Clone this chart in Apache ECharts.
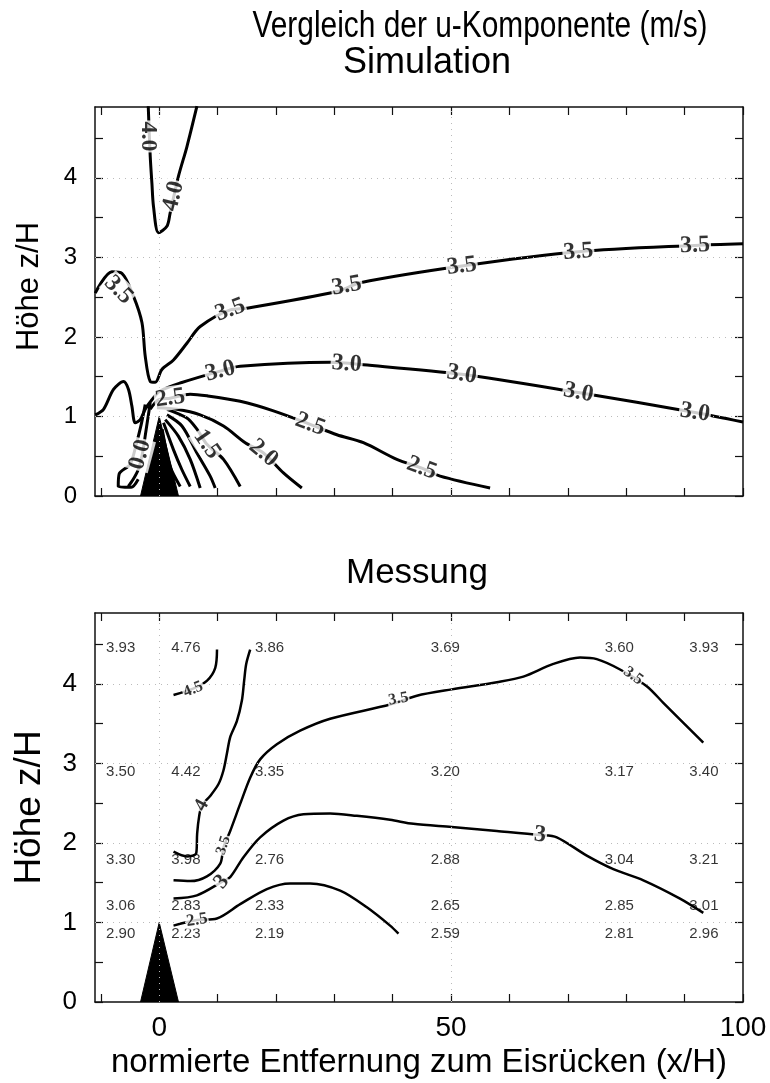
<!DOCTYPE html>
<html><head><meta charset="utf-8">
<script src="https://cdn.jsdelivr.net/npm/echarts@6.0.0/dist/echarts.min.js"></script>
<style>html,body{margin:0;padding:0;background:#fff}#c{width:770px;height:1083px}</style>
</head><body><div id="c"></div>
<script>
// ---------- axis definitions ----------
const xMin = -11, xMax = 100, yMin = 0, yMax = 4.89;
const xTickVals = [-10, 0, 10, 20, 30, 40, 50, 60, 70, 80, 90, 100];
const xLabelVals = [0, 50, 100];
const yTickVals = [0, 0.5, 1, 1.5, 2, 2.5, 3, 3.5, 4, 4.5];
const yLabelVals = [0, 1, 2, 3, 4];
const gridXVals = [0, 50];
const gridYVals = [1, 2, 3, 4];

// ---------- ridge (ice ridge triangle) ----------
const ridge = [[-3.2, 0], [0, 1], [3.3, 0]];

// ---------- Simulation contours ----------
const sim40 = [[-1.88, 4.90], [-1.54, 4.27], [-1.25, 3.93], [-0.98, 3.64], [-0.12, 3.31], [1.32, 3.39], [1.88, 3.56], [3.30, 4.02], [4.74, 4.39], [6.46, 4.90]];
const sim35 = [[-10.96, 2.55], [-8.1, 2.82], [-6.39, 2.80], [-4.4, 2.51], [-2.96, 2.18], [-2.4, 1.76], [-1.54, 1.44], [-0.68, 1.43], [0.46, 1.59], [2.45, 1.71], [4.74, 1.92], [7.02, 2.13], [12.16, 2.34], [15.02, 2.36], [30.43, 2.57], [34.42, 2.68], [51.83, 2.89], [71.8, 3.07], [91.78, 3.15], [100, 3.17]];
const sim30 = [[-10.96, 1.02], [-9.54, 1.09], [-7.83, 1.34], [-6.11, 1.44], [-5.26, 1.34], [-4.68, 1.13], [-4.11, 0.92], [-3.25, 0.96], [-2.4, 1.09], [-1.25, 1.21], [0.17, 1.32], [3.6, 1.42], [10.45, 1.57], [13.87, 1.63], [29.28, 1.68], [34.98, 1.65], [51.83, 1.53], [71.8, 1.30], [91.78, 1.05], [100, 0.93]];
const sim25 = [[-1.54, 1.09], [-0.12, 1.21], [1.88, 1.23], [5.31, 1.28], [8.17, 1.26], [13.87, 1.19], [19.57, 1.07], [25.86, 0.90], [30.43, 0.77], [34.98, 0.67], [40.7, 0.46], [44.98, 0.35], [48.12, 0.25], [56.68, 0.10]];
const sim20 = [[-0.39, 1.11], [3.03, 1.09], [7.02, 1.02], [11.01, 0.88], [14.73, 0.67], [17.86, 0.54], [21.28, 0.29], [24.43, 0.10]];
const sim15 = [[1.32, 1.09], [4.74, 0.98], [6.46, 0.84], [8.17, 0.65], [11.01, 0.46], [13.87, 0.12]];
const sim10 = [[1.32, 1.02], [3.89, 0.88], [6.46, 0.54], [8.73, 0.25], [9.59, 0.10]];
const sim05 = [[1.03, 0.96], [3.3, 0.75], [5.31, 0.46], [7.02, 0.10]];
const sim00a = [[0.74, 0.92], [2.45, 0.58], [3.89, 0.33], [5.31, 0.12]];
const sim00b = [[0.51, 0.84], [1.88, 0.37], [3.6, 0.12]];
const simLeftA = [[-2.4, 1.15], [-3.08, 0.90], [-3.94, 0.65], [-4.97, 0.40], [-6.85, 0.28], [-7.02, 0.12], [-4.8, 0.11], [-3.6, 0.21]];
const simLeftB = [[-1.54, 1.17], [-2.23, 0.84], [-2.91, 0.52], [-3.6, 0.33], [-4.45, 0.21], [-5.3, 0.12]];
// contour labels: [x, y, text, rotation]
const simLabels = [
  [-1.88, 4.52, '4.0', -90], [2.45, 3.77, '4.0', 76],
  [-6.97, 2.59, '3.5', -45], [12.16, 2.34, '3.5', 20], [32.1, 2.64, '3.5', 10], [51.83, 2.89, '3.5', 7], [71.8, 3.07, '3.5', 4], [91.78, 3.15, '3.5', 2],
  [10.45, 1.57, '3.0', 14], [32.1, 1.66, '3.0', -4], [51.83, 1.53, '3.0', -9], [71.8, 1.30, '3.0', -11], [91.78, 1.05, '3.0', -9],
  [1.88, 1.23, '2.5', 8], [25.86, 0.90, '2.5', -20], [44.98, 0.35, '2.5', -20],
  [17.86, 0.54, '2.0', -40], [8.17, 0.65, '1.5', -55], [-3.25, 0.52, '0.0', 75]
];

// ---------- Messung contours ----------
const mes45 = [[2.45, 3.86], [5.8, 3.94], [8.2, 4.04], [9.6, 4.20], [9.9, 4.43]];
const mes40 = [[2.45, 1.89], [4.74, 1.83], [6.34, 1.87], [6.5, 2.12], [6.85, 2.34], [7.3, 2.47], [8.73, 2.59], [10.16, 2.74], [11.0, 2.91], [11.59, 3.12], [12.16, 3.33], [13.3, 3.53], [14.16, 3.79], [14.55, 4.04], [14.9, 4.25], [15.58, 4.43]];
const mes35 = [[2.45, 1.53], [5.31, 1.52], [8.17, 1.58], [10.45, 1.74], [11.0, 1.94], [12.16, 2.15], [13.87, 2.49], [15.58, 2.82], [17.29, 3.05], [20.15, 3.24], [24.14, 3.41], [29.28, 3.56], [39.55, 3.74], [44.13, 3.85], [50.12, 3.93], [57.83, 4.02], [62.38, 4.09], [67.52, 4.25], [72.09, 4.33], [74.95, 4.31], [78.94, 4.18], [83.51, 3.97], [86.35, 3.76], [93.2, 3.26]];
const mes30 = [[2.45, 1.30], [6.46, 1.34], [10.74, 1.51], [12.16, 1.57], [14.43, 1.82], [17.29, 2.07], [21.28, 2.28], [24.71, 2.36], [29.28, 2.37], [33.85, 2.34], [39.55, 2.29], [43.54, 2.24], [50.12, 2.20], [57.83, 2.15], [65.24, 2.10], [68.1, 2.07], [73.24, 1.84], [77.79, 1.67], [82.93, 1.53], [89.21, 1.30], [93.2, 1.12]];
const mes25 = [[2.45, 0.96], [6.46, 1.03], [9.88, 1.05], [13.87, 1.23], [18.44, 1.42], [22.43, 1.49], [25.86, 1.49], [31.0, 1.40], [35.57, 1.19], [39.55, 0.96], [40.98, 0.86]];
// contour labels: [x, y, text, rotation, fontSize]
const mesLabels = [
  [5.82, 3.93, '4.5', 22, 16], [7.3, 2.47, '4', 62, 20], [11.0, 1.97, '3.5', 72, 15],
  [10.7, 1.51, '3', 50, 22], [6.46, 1.03, '2.5', 8, 17], [40.98, 3.81, '3.5', 10, 16],
  [81.2, 4.10, '3.5', -35, 16], [65.24, 2.10, '3', -5, 24]
];
// measured values at the probe positions
const probeX = [-6.6, 4.57, 18.9, 49, 78.8, 93.3];
const probeY = [4.45, 2.89, 1.79, 1.21, 0.86];
const probeVals = [
  ['3.93', '4.76', '3.86', '3.69', '3.60', '3.93'],
  ['3.50', '4.42', '3.35', '3.20', '3.17', '3.40'],
  ['3.30', '3.98', '2.76', '2.88', '3.04', '3.21'],
  ['3.06', '2.83', '2.33', '2.65', '2.85', '3.01'],
  ['2.90', '2.23', '2.19', '2.59', '2.81', '2.96']
];

// ---------- build option ----------
const SANS = "'Liberation Sans',Arial,sans-serif";
const SERIF = "'Liberation Serif','Times New Roman',serif";

function xAx(gi, pos, labels) {
  return {
    type: 'value', gridIndex: gi, position: pos, min: xMin, max: xMax,
    axisLine: { show: true, onZero: false, lineStyle: { color: '#111', width: 1.5 } },
    axisTick: { show: true, inside: true, length: 8, customValues: xTickVals, lineStyle: { color: '#111', width: 1.2 } },
    axisLabel: labels ? { show: true, customValues: xLabelVals, fontSize: 28, fontFamily: SANS, color: '#000', margin: 12 } : { show: false },
    splitLine: { show: false }
  };
}
function yAx(gi, pos, labelSize) {
  return {
    type: 'value', gridIndex: gi, position: pos, min: yMin, max: yMax,
    axisLine: { show: true, onZero: false, lineStyle: { color: '#111', width: 1.5 } },
    axisTick: { show: true, inside: true, length: 8, customValues: yTickVals, lineStyle: { color: '#111', width: 1.2 } },
    axisLabel: labelSize ? { show: true, customValues: yLabelVals, fontSize: labelSize, fontFamily: SANS, color: '#000', margin: 18 } : { show: false },
    splitLine: { show: false }
  };
}

const xAxes = [xAx(0, 'bottom', false), xAx(0, 'top', false), xAx(1, 'bottom', true), xAx(1, 'top', false)];
xAxes[2].name = 'normierte Entfernung zum Eisrücken (x/H)';
xAxes[2].nameLocation = 'middle';
xAxes[2].nameGap = 44;
xAxes[2].nameTextStyle = { fontSize: 33, fontFamily: SANS, color: '#000' };

const yAxes = [yAx(0, 'left', 24), yAx(0, 'right', 0), yAx(1, 'left', 26), yAx(1, 'right', 0)];
yAxes[0].name = 'Höhe z/H';
yAxes[0].nameLocation = 'middle';
yAxes[0].nameGap = 50;
yAxes[0].nameTextStyle = { fontSize: 31, fontFamily: SANS, color: '#000', padding: [0, 0, 0, 30] };
yAxes[2].name = 'Höhe z/H';
yAxes[2].nameLocation = 'middle';
yAxes[2].nameGap = 47;
yAxes[2].nameTextStyle = { fontSize: 37, fontFamily: SANS, color: '#000' };

const series = [];
function addGridLines(gi) {
  series.push({
    type: 'line', xAxisIndex: gi * 2, yAxisIndex: gi * 2, data: [[xMin, yMin]], symbol: 'none',
    lineStyle: { width: 0 }, silent: true, z: 1,
    markLine: {
      silent: true, symbol: 'none', label: { show: false }, animation: false,
      lineStyle: { type: [1, 5], color: '#bbb', width: 1 },
      data: gridXVals.map(v => ({ xAxis: v })).concat(gridYVals.map(v => ({ yAxis: v })))
    }
  });
}
function addLine(gi, data, w) {
  series.push({
    type: 'line', xAxisIndex: gi * 2, yAxisIndex: gi * 2, data: data, smooth: 0.3,
    symbol: 'none', showSymbol: false, silent: true, z: 3,
    lineStyle: { color: '#000', width: w }
  });
}
function addRidge(gi) {
  series.push({
    type: 'line', xAxisIndex: gi * 2, yAxisIndex: gi * 2, data: ridge, symbol: 'none', silent: true, z: 4,
    lineStyle: { color: '#000', width: 1 }, areaStyle: { color: '#000', opacity: 1 }
  });
}

// top panel
addGridLines(0);
[sim40, sim35, sim30, sim25, sim20, sim15, sim10, sim05, sim00a, sim00b, simLeftA, simLeftB].forEach(d => addLine(0, d, 3));
addRidge(0);
series.push({
  type: 'scatter', xAxisIndex: 0, yAxisIndex: 0, symbolSize: 0, silent: true, z: 6,
  data: simLabels.map(l => ({ value: [l[0], l[1]], label: { formatter: l[2], rotate: l[3] } })),
  label: { show: true, position: 'inside', fontFamily: SERIF, fontWeight: 'bold', fontSize: 24, color: '#000', textBorderWidth: 0, backgroundColor: '#fff', padding: [0, 1] }
});

// bottom panel
addGridLines(1);
series.push({
  type: 'scatter', xAxisIndex: 2, yAxisIndex: 2, symbolSize: 0, silent: true, z: 2,
  data: probeVals.flatMap((row, r) => row.map((v, c) => ({ value: [probeX[c], probeY[r]], label: { formatter: v } }))),
  label: { show: true, position: 'inside', fontFamily: SANS, fontSize: 15, color: '#000', textBorderWidth: 0 }
});
[mes45, mes40, mes35, mes30, mes25].forEach(d => addLine(1, d, 2.5));
addRidge(1);
series.push({
  type: 'scatter', xAxisIndex: 2, yAxisIndex: 2, symbolSize: 0, silent: true, z: 6,
  data: mesLabels.map(l => ({ value: [l[0], l[1]], label: { formatter: l[2], rotate: l[3], fontSize: l[4] } })),
  label: { show: true, position: 'inside', fontFamily: SERIF, fontWeight: 'bold', color: '#000', textBorderWidth: 0, backgroundColor: '#fff', padding: [0, 1] }
});

const option = {
  animation: false,
  backgroundColor: '#fff',
  grid: [
    { left: 95, right: 27, top: 107, height: 389 },
    { left: 95, right: 27, top: 613, height: 389 }
  ],
  xAxis: xAxes,
  yAxis: yAxes,
  graphic: [
    { type: 'text', x: 480, y: 27, scaleX: 0.83, style: { text: 'Vergleich der u-Komponente (m/s)', fill: '#000', fontSize: 36, fontFamily: SANS, textAlign: 'center', textVerticalAlign: 'middle' } },
    { type: 'text', x: 427, y: 63, style: { text: 'Simulation', fill: '#000', fontSize: 36, fontFamily: SANS, textAlign: 'center', textVerticalAlign: 'middle' } },
    { type: 'text', x: 417, y: 573, style: { text: 'Messung', fill: '#000', fontSize: 35, fontFamily: SANS, textAlign: 'center', textVerticalAlign: 'middle' } }
  ],
  series: series
};
const chart = echarts.init(document.getElementById('c'), null, { renderer: 'canvas' });
chart.setOption(option);
</script></body></html>
